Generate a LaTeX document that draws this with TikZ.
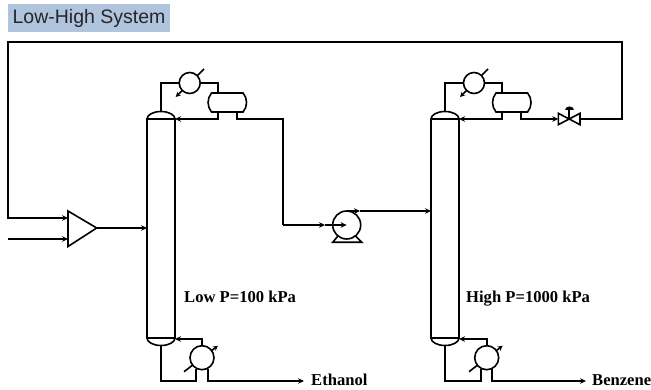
\documentclass[tikz,border=0pt]{standalone}
\usepackage{fontspec}
\setmainfont{Liberation Serif}
\newfontfamily\titlefont{Liberation Sans}
\usetikzlibrary{arrows.meta,shapes.misc}
\definecolor{titleblue}{HTML}{B0C4DE}
\tikzset{
    line/.style={line width=1.6pt, line join=miter},
    stream/.style={line, -{Stealth[length=6pt,width=5.5pt]}},
    column/.style={line, draw, minimum width=28pt, minimum height=219pt, inner sep=0pt, outer sep=0pt},
    exchanger/.style={line, draw, circle, fill=white, minimum size=21pt, inner sep=0pt, outer sep=0pt},
    drum/.style={line, draw, rounded rectangle, rounded rectangle arc length=80, minimum width=38.5pt, minimum height=19pt, inner sep=0pt, outer sep=0pt},
    utility/.style={line, -{Stealth[length=5pt,width=5pt]}},
    label/.style={font=\fontsize{16.6}{18}\selectfont\bfseries, inner sep=0pt, anchor=base west}
}
\begin{document}
\begin{tikzpicture}[x=1pt, y=-1pt]
                \useasboundingbox (0,0) rectangle (651,390);
                % Title
                \node[fill=titleblue, minimum width=162pt, minimum height=28pt, inner sep=0pt,
                    font=\titlefont\fontsize{19.5}{22}\selectfont, text=black!85] (title) at (89, 18) {Low-High System};

                % Columns
                \node[column] (colL) at (161, 228.5) {};
                \node[column] (colH) at (445, 228.5) {};
                \draw[line] (colL.north west) arc[start angle=180, end angle=0, x radius=14pt, y radius=7.5pt];
                \draw[line] (colL.south west) arc[start angle=180, end angle=360, x radius=14pt, y radius=7.5pt];
                \draw[line] (colH.north west) arc[start angle=180, end angle=0, x radius=14pt, y radius=7.5pt];
                \draw[line] (colH.south west) arc[start angle=180, end angle=360, x radius=14pt, y radius=7.5pt];
                \coordinate (topL) at (161, 111.5); \coordinate (botL) at (161, 346);
                \coordinate (topH) at (445, 111.5); \coordinate (botH) at (445, 346);

                % Utility lines
                \draw[utility] (204, 69) -- (175.7, 97);
                \draw[utility] (488, 69) -- (460, 97);
                \draw[utility] (184, 371.7) -- (218, 345.7);
                \draw[utility] (469, 371.7) -- (502.7, 345.7);

                % Condensers and drums
                \node[exchanger] (condL) at (189.7, 83) {};
                \node[exchanger] (condH) at (474, 83) {};
                \node[drum] (drumL) at (227.3, 102.5) {};
                \node[drum] (drumH) at (511.8, 102.5) {};
                \coordinate (drumInL) at (218, 93); \coordinate (refluxL) at (218, 112); \coordinate (distL) at (236.7, 112);
                \coordinate (drumInH) at (502, 93); \coordinate (refluxH) at (502, 112); \coordinate (distH) at (521, 112);

                % Reboilers
                \node[exchanger, minimum size=24pt] (rebL) at (202, 357.7) {};
                \node[exchanger, minimum size=24pt] (rebH) at (486.7, 357.7) {};
                \coordinate (rebInL) at (196, 369); \coordinate (rebOutL) at (207.7, 369);
                \coordinate (rebInH) at (480.7, 369); \coordinate (rebOutH) at (492, 369);

                % Mixer
                \coordinate (mixTop) at (68, 211); \coordinate (mixBot) at (68, 246.5); \coordinate (mixTip) at (96.7, 228);
                \coordinate (mixA) at (68, 218); \coordinate (mixB) at (68, 239);
                \draw[line] (mixTop) -- (mixTip) -- (mixBot) -- cycle;

                % Pump
                \node[exchanger, minimum size=28pt] (pump) at (346.7, 225) {};
                \coordinate (baseL) at (332.7, 242.3); \coordinate (baseR) at (361.7, 242.3);
                \draw[line] (338, 236) -- (baseL) -- (baseR) -- (355.5, 236);

                % Valve
                \coordinate (valveL) at (558.3, 119); \coordinate (valveR) at (580, 119); \coordinate (valve) at (569, 119);
                \draw[line] (558.3, 113.3) -- (580, 124.7) -- (580, 113.3) -- (558.3, 124.7) -- cycle;
                \draw[line] (valve) -- (569, 110);
                \fill (565, 110) arc[start angle=180, end angle=0, x radius=4.5pt, y radius=3.5pt] -- cycle;

                % Feed and recycle
                \coordinate (recA) at (622, 119); \coordinate (recB) at (622, 42);
                \coordinate (recC) at (8, 42); \coordinate (recD) at (8, 218);
                \coordinate (feed) at (8, 239);
                \draw[stream] (valveR) -- (recA) -- (recB) -- (recC) -- (recD) -- (mixA);
                \draw[stream] (feed) -- (mixB);
                \draw[stream] (mixTip) -- (mixTip -| colL.west);

                % Overhead of low column
                \draw[line] (topL) |- (condL.west);
                \draw[line] (condL.east) -| (drumInL);
                \draw[stream] (refluxL) |- (colL.east |- 0, 119);
                \coordinate (toPump) at (283, 119); \coordinate (turn) at (283, 225);
                \coordinate (pumpIn) at (325, 225);
                \draw[line] (distL) |- (toPump) -- (turn);
                \draw[stream] (turn) -- (pumpIn);
                \draw[stream] (pumpIn) -- (pump.center);

                % Pump outlet
                \coordinate (pumpOut) at (360, 211);
                \draw[stream] (pump.north) -- (pumpOut);
                \draw[stream] (pumpOut) -- (colH.west |- pumpOut);

                % Overhead of high column
                \draw[line] (topH) |- (condH.west);
                \draw[line] (condH.east) -| (drumInH);
                \draw[stream] (refluxH) |- (colH.east |- 0, 119);
                \draw[stream] (distH) |- (valveL);

                % Bottoms
                \coordinate (lowL) at (161, 381); \coordinate (lowH) at (445, 381);
                \coordinate (prodL) at (304, 381); \coordinate (prodH) at (586, 381);
                \draw[line] (botL) -- (lowL) -| (rebInL);
                \draw[line] (botH) -- (lowH) -| (rebInH);
                \draw[stream] (rebL.north) |- (colL.east |- 0, 339);
                \draw[stream] (rebH.north) |- (colH.east |- 0, 339);
                \draw[stream] (rebOutL) |- (prodL);
                \draw[stream] (rebOutH) |- (prodH);
                \node[label] (ethanol) at (311, 385.5) {Ethanol};
                \node[label] (benzene) at (592, 385.5) {Benzene};

                % Pressure labels
                \node[label] (pressL) at (184, 302.5) {Low P=100 kPa};
                \node[label] (pressH) at (466, 302.5) {High P=1000 kPa};
            \end{tikzpicture}
\end{document}
